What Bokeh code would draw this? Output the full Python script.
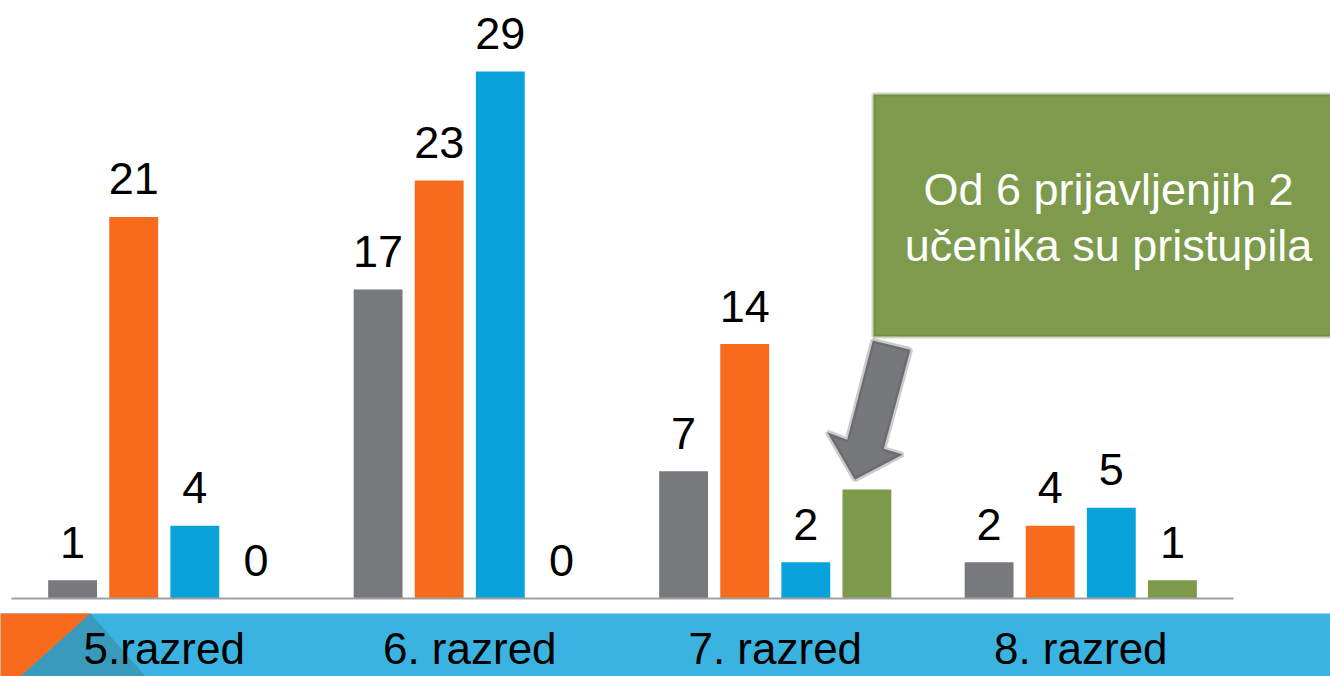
from bokeh.plotting import figure
from bokeh.models import Range1d, ColumnDataSource, BoxAnnotation, PolyAnnotation
from bokeh.transform import dodge
from bokeh.core.properties import value
from bokeh.embed import file_html
from bokeh.resources import INLINE

# ---- data ----
categories = ["5.razred", "6. razred", "7. razred", "8. razred"]
series_gray = [1, 17, 7, 2]
series_orange = [21, 23, 14, 4]
series_blue = [4, 29, 2, 5]
series_green = [0, 0, 6, 1]
green_label_shown = [True, True, False, True]
callout_lines = ["Od 6 prijavljenjih 2", "učenika su pristupila"]

# ---- geometry helpers (reference pixels -> data) ----
W, H = 1330, 676
OFF = 0
PX_PER_CAT = 305.5
CAT0_PX = 163.75
BASE_PX = 598.0
PX_PER_UNIT = 18.172


def dx(rx):
    return (rx - CAT0_PX) / PX_PER_CAT


def dy(ry):
    return (BASE_PX - ry) / PX_PER_UNIT


p = figure(width=W, height=H, output_backend="svg", toolbar_location=None,
           x_range=Range1d(dx(OFF), dx(OFF + W)),
           y_range=Range1d(dy(OFF + H), dy(OFF)),
           min_border=0, min_border_left=0, min_border_right=0,
           min_border_top=0, min_border_bottom=0)
p.axis.visible = False
p.grid.visible = False
p.outline_line_color = None
p.background_fill_color = "white"
p.border_fill_color = "white"

idx = list(range(len(categories)))
src = ColumnDataSource(dict(
    x=idx, cat=categories,
    gray=series_gray, orange=series_orange, blue=series_blue, green=series_green,
))

FONT = value("Liberation Sans")
bar_w = 0.16
label_gap = 38 / PX_PER_UNIT

series = [("gray", "#78797d", -0.3), ("orange", "#f76b1c", -0.1),
          ("blue", "#0aa2da", 0.1), ("green", "#7d9a4b", 0.3)]

# bottom band (underlay)
p.add_layout(BoxAnnotation(top=dy(613), fill_color="#3bb3e0", fill_alpha=1, line_color=None,
                           level="underlay"))
p.add_layout(PolyAnnotation(xs=[dx(-5), dx(90), dx(20), dx(-5)], ys=[dy(613), dy(613), dy(676), dy(676)],
                            fill_color="#f76b1c", fill_alpha=1, line_color=None, level="underlay"))
p.add_layout(PolyAnnotation(xs=[dx(90), dx(20), dx(145)], ys=[dy(613), dy(676), dy(676)],
                            fill_color="#3a9abb", fill_alpha=1, line_color=None, level="underlay"))

# callout box (underlay so text is above)
p.add_layout(BoxAnnotation(left=dx(873), right=dx(1345), top=dy(94), bottom=dy(336),
                           fill_color="#7e9a4c", fill_alpha=1, line_color="#5b7834", line_width=4,
                           level="underlay"))

for name, color, off in series:
    p.vbar(x=dodge("x", off, range=p.x_range), top=name, bottom=0, width=bar_w,
           source=src, fill_color=color, line_color=None)

# value labels
for name, color, off in series:
    vals = src.data[name]
    shown = green_label_shown if name == "green" else [True] * len(vals)
    lx = [i + off for i, s in zip(idx, shown) if s]
    ly = [v + label_gap for v, s in zip(vals, shown) if s]
    lt = [str(v) for v, s in zip(vals, shown) if s]
    p.text(x=lx, y=ly, text=lt, text_font=FONT, text_font_size="45px",
           text_color="black", text_align="center", text_baseline="middle")

# baseline
p.segment(x0=[dx(11)], x1=[dx(1233)], y0=[0], y1=[0], line_color="#a0a0a0", line_width=2)

# category labels
p.text(x="x", y=dy(648), text="cat", source=src, text_font=FONT, text_font_size="44px",
       text_color="black", text_align="center", text_baseline="middle")

# callout text
p.text(x=[dx(1108)] * 2, y=[dy(189), dy(245)], text=callout_lines, text_font=FONT,
       text_font_size="45px", text_color="white", text_align="center", text_baseline="middle")

# arrow
arrow_px = [(872.3, 340), (910, 349.3), (883.3, 448.3), (902.3, 454),
            (854.3, 479.3), (826.7, 431.7), (846.7, 439.3)]
p.add_layout(PolyAnnotation(xs=[dx(a) for a, b in arrow_px], ys=[dy(b) for a, b in arrow_px],
                            fill_color="#77787c", fill_alpha=1, line_color="#555659", line_width=5))

open("out.html", "w").write(file_html(p, INLINE))
